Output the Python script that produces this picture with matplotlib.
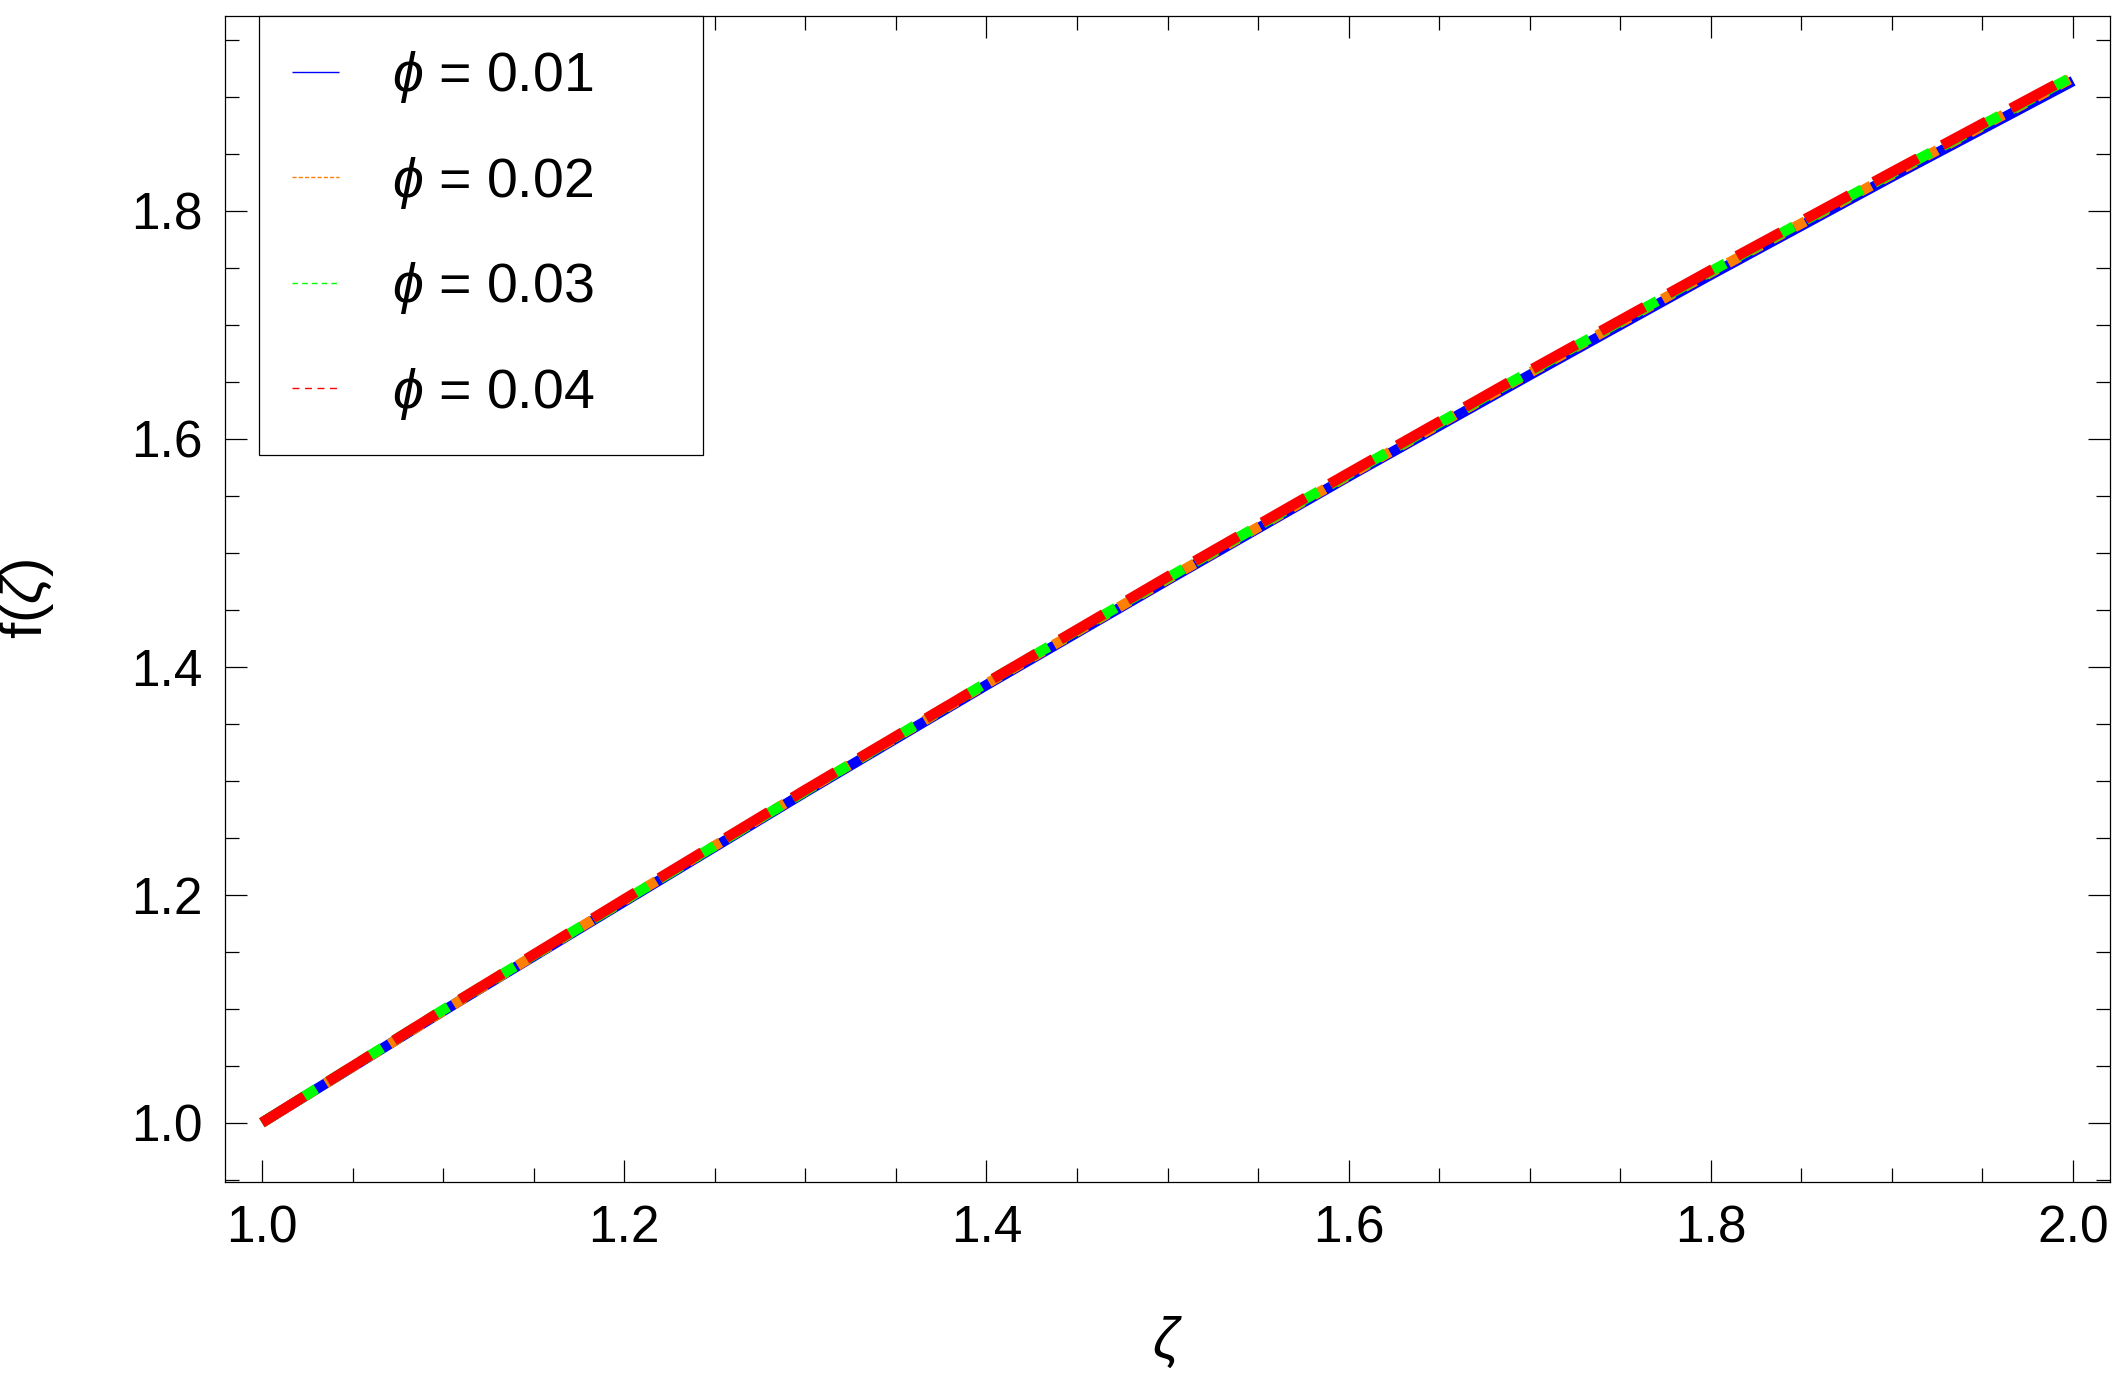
import matplotlib
matplotlib.use("Agg")
import matplotlib.pyplot as plt
from matplotlib.ticker import MultipleLocator, FormatStrFormatter

plt.rcParams["font.family"] = ["Liberation Sans", "DejaVu Sans"]
plt.rcParams["mathtext.fontset"] = "custom"
plt.rcParams["mathtext.rm"] = "Liberation Sans"
plt.rcParams["mathtext.it"] = "Liberation Sans:italic"
plt.rcParams["mathtext.fallback"] = "stixsans"
plt.rcParams["lines.scale_dashes"] = False

# values
zeta = [1.0, 1.1, 1.2, 1.3, 1.4, 1.5, 1.6, 1.7, 1.8, 1.9, 2.0]
f_phi_001 = [1.000, 1.098, 1.194, 1.290, 1.384, 1.476, 1.567, 1.656, 1.744, 1.830, 1.914]
f_phi_002 = [1.000, 1.098, 1.195, 1.291, 1.385, 1.477, 1.568, 1.658, 1.746, 1.832, 1.917]
f_phi_003 = [1.000, 1.099, 1.195, 1.291, 1.386, 1.478, 1.569, 1.659, 1.747, 1.833, 1.918]
f_phi_004 = [1.000, 1.099, 1.196, 1.292, 1.386, 1.479, 1.570, 1.660, 1.748, 1.834, 1.919]

labels = [r"$\phi$ = 0.01", r"$\phi$ = 0.02", r"$\phi$ = 0.03", r"$\phi$ = 0.04"]
colors = ["#0000ff", "#ff7f00", "#00ff00", "#ff0000"]
main_styles = ["-", (0, (9, 9)), (0, (18, 10)), (0, (36, 20))]
legend_styles = ["-", (0, (3, 1.5)), (0, (4, 3)), (0, (5, 4))]

fig = plt.figure(figsize=(21.26, 13.79), dpi=100)
ax = fig.add_axes([225 / 2126, 197 / 1379, 1885 / 2126, 1166 / 1379])

series = [f_phi_001, f_phi_002, f_phi_003, f_phi_004]
for ys, lab, col, ls in zip(series, labels, colors, main_styles):
    ax.plot(zeta, ys, color=col, ls=ls, lw=7.5, label=lab,
            solid_capstyle="butt", dash_capstyle="butt")

ax.set_xlim(0.9796, 2.0204)
ax.set_ylim(0.948, 1.971)

ax.xaxis.set_major_locator(MultipleLocator(0.2))
ax.xaxis.set_minor_locator(MultipleLocator(0.05))
ax.yaxis.set_major_locator(MultipleLocator(0.2))
ax.yaxis.set_minor_locator(MultipleLocator(0.05))
ax.xaxis.set_major_formatter(FormatStrFormatter("%.1f"))
ax.yaxis.set_major_formatter(FormatStrFormatter("%.1f"))

ax.tick_params(which="both", direction="in", top=True, right=True,
               width=0.9, labelsize=37, pad=16)
ax.tick_params(which="major", length=16)
ax.tick_params(which="minor", length=10)
for sp in ax.spines.values():
    sp.set_linewidth(0.9)

ax.set_xlabel(r"$\zeta$", fontsize=41, labelpad=44)
ax.set_ylabel(r"f($\zeta$)", fontsize=42, labelpad=54)

leg = ax.legend(loc="upper left", bbox_to_anchor=(0.018, 0.0, 0.2356, 1.0),
                mode="expand", borderaxespad=0, fontsize=40, frameon=True,
                fancybox=False, edgecolor="black", framealpha=1,
                handlelength=0.85, handletextpad=0.95, labelspacing=0.89,
                borderpad=0.6)
leg.get_frame().set_linewidth(0.9)
for line, ls in zip(leg.get_lines(), legend_styles):
    line.set_linewidth(1.0)
    line.set_linestyle(ls)

fig.savefig("out.png", dpi=100)
